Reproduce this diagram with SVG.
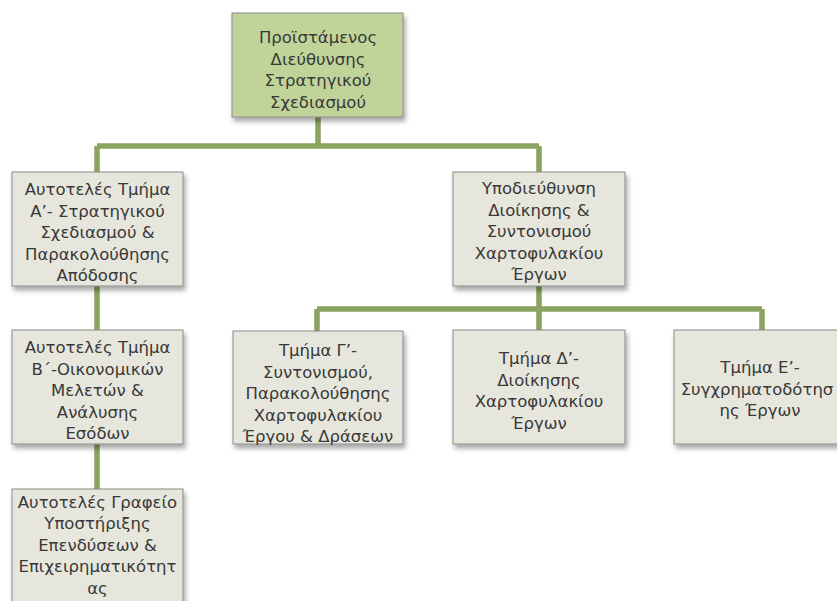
<svg xmlns="http://www.w3.org/2000/svg" width="837" height="601" viewBox="0 0 837 601">
<defs>
<filter id="sh" x="-10%" y="-10%" width="130%" height="140%">
<feDropShadow dx="2" dy="4" stdDeviation="2.5" flood-color="#000" flood-opacity="0.35"/>
</filter>
<style>
.box{fill:#e6e6dc;stroke:#8a8a8a;stroke-width:1;filter:url(#sh)}
.top{fill:#c0d49a;stroke:#8a8a8a;stroke-width:1;filter:url(#sh)}
.t{font-family:"DejaVu Sans",sans-serif;font-size:16.5px;fill:#383838;text-anchor:middle}
.c{fill:none;stroke:#8aa35e;stroke-width:5.5}
</style>
</defs>
<rect width="837" height="601" fill="#fff"/>
<g id="connectors">
<path class="c" d="M318,117 V146 M97,146 H539 M97,146 V172 M539,146 V172"/>
<path class="c" d="M97,286 V330 M97,444 V489"/>
<path class="c" d="M539,286 V309 M317,309 H762 M317,309 V331 M539,309 V330 M762,309 V330"/>
</g>
<g id="n0">
<rect class="top" x="232" y="13" width="171" height="104"/>
<text class="t"><tspan x="318" y="43">Προϊστάμενος</tspan><tspan x="318" y="64.5">Διεύθυνσης</tspan><tspan x="318" y="86">Στρατηγικού</tspan><tspan x="318" y="107.5">Σχεδιασμού</tspan></text>
</g>
<g id="n1">
<rect class="box" x="12" y="172" width="171" height="114"/>
<text class="t"><tspan x="97.5" y="195">Αυτοτελές Τμήμα</tspan><tspan x="97.5" y="216.5">Α’- Στρατηγικού</tspan><tspan x="97.5" y="238">Σχεδιασμού &amp;</tspan><tspan x="97.5" y="259.5">Παρακολούθησης</tspan><tspan x="97.5" y="281">Απόδοσης</tspan></text>
</g>
<g id="n2">
<rect class="box" x="12" y="330" width="171" height="114"/>
<text class="t"><tspan x="97.5" y="353">Αυτοτελές Τμήμα</tspan><tspan x="97.5" y="374.5">Β΄-Οικονομικών</tspan><tspan x="97.5" y="396">Μελετών &amp;</tspan><tspan x="97.5" y="417.5">Ανάλυσης</tspan><tspan x="97.5" y="439">Εσόδων</tspan></text>
</g>
<g id="n3">
<rect class="box" x="12" y="489" width="171" height="120"/>
<text class="t"><tspan x="97.5" y="507.5">Αυτοτελές Γραφείο</tspan><tspan x="97.5" y="529">Υποστήριξης</tspan><tspan x="97.5" y="550.5">Επενδύσεων &amp;</tspan><tspan x="97.5" y="572">Επιχειρηματικότητ</tspan><tspan x="97.5" y="593.5">ας</tspan></text>
</g>
<g id="n4">
<rect class="box" x="453" y="172" width="172" height="114"/>
<text class="t"><tspan x="539" y="194">Υποδιεύθυνση</tspan><tspan x="539" y="215.5">Διοίκησης &amp;</tspan><tspan x="539" y="237">Συντονισμού</tspan><tspan x="539" y="258.5">Χαρτοφυλακίου</tspan><tspan x="539" y="280">Έργων</tspan></text>
</g>
<g id="n5">
<rect class="box" x="233" y="331" width="170" height="113"/>
<text class="t"><tspan x="318" y="356">Τμήμα Γ’-</tspan><tspan x="318" y="377.5">Συντονισμού,</tspan><tspan x="318" y="399">Παρακολούθησης</tspan><tspan x="318" y="420.5">Χαρτοφυλακίου</tspan><tspan x="318" y="442">Έργου &amp; Δράσεων</tspan></text>
</g>
<g id="n6">
<rect class="box" x="453" y="330" width="172" height="114"/>
<text class="t"><tspan x="539" y="364">Τμήμα Δ’-</tspan><tspan x="539" y="385.5">Διοίκησης</tspan><tspan x="539" y="407">Χαρτοφυλακίου</tspan><tspan x="539" y="428.5">Έργων</tspan></text>
</g>
<g id="n7">
<rect class="box" x="674" y="330" width="172" height="114"/>
<text class="t"><tspan x="760" y="373">Τμήμα Ε’-</tspan><tspan x="757" y="394.5">Συγχρηματοδότησ</tspan><tspan x="760" y="416">ης Έργων</tspan></text>
</g>
</svg>
